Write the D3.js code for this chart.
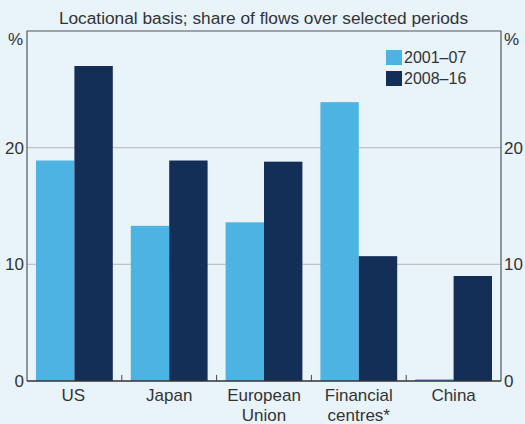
<!DOCTYPE html>
<html>
<head>
<meta charset="utf-8">
<script src="https://cdn.jsdelivr.net/npm/d3@7"></script>
<style>
  body { margin: 0; background: #e8f4fa; }
  svg { display: block; font-family: Arial, "Liberation Sans", sans-serif; }
</style>
</head>
<body>
<div id="chart"></div>
<script>
const categories = ['US', 'Japan', 'European Union', 'Financial centres*', 'China'];
const categoryLines = [['US'], ['Japan'], ['European', 'Union'], ['Financial', 'centres*'], ['China']];
const seriesNames = ['2001–07', '2008–16'];
const values2001 = [18.9, 13.3, 13.6, 23.9, 0.15];
const values2008 = [27.0, 18.9, 18.8, 10.7, 9.0];
const yTicks = [0, 10, 20];
const colors = ['#4db3e2', '#132f57'];

const W = 525, H = 424;
const margin = { top: 31, right: 24, bottom: 43, left: 27 };
const width = W - margin.left - margin.right;
const height = H - margin.top - margin.bottom;

const svg = d3.select('#chart').append('svg')
    .attr('width', W)
    .attr('height', H);

svg.append('rect')
    .attr('width', W).attr('height', H)
    .attr('fill', '#e8f4fa');

svg.append('text')
    .attr('x', 263.5)
    .attr('y', 24)
    .attr('text-anchor', 'middle')
    .attr('fill', '#333')
    .style('font-size', '17.3px')
    .text('Locational basis; share of flows over selected periods');

const g = svg.append('g')
    .attr('transform', `translate(${margin.left}, ${margin.top})`);

const x = d3.scaleBand()
    .domain(categories)
    .range([0, width])
    .paddingInner(0)
    .paddingOuter(0);

const x1 = d3.scaleBand()
    .domain(seriesNames)
    .range([9, x.bandwidth() - 9]);

const y = d3.scaleLinear()
    .domain([0, 30])
    .range([height, 0]);

// gridlines
g.selectAll('.grid')
    .data(yTicks.filter((d) => d > 0))
    .enter().append('line')
    .attr('x1', 0).attr('x2', width)
    .attr('y1', (d) => y(d)).attr('y2', (d) => y(d))
    .attr('stroke', '#bfc3c4')
    .attr('stroke-width', 1.2);

// bars
const data = categories.map((c, i) => ({ cat: c, vals: [values2001[i], values2008[i]] }));
const groups = g.selectAll('.grp')
    .data(data)
    .enter().append('g')
    .attr('transform', (d) => `translate(${x(d.cat)}, 0)`);

groups.selectAll('rect')
    .data((d) => d.vals.map((v, j) => ({ v, s: seriesNames[j], j })))
    .enter().append('rect')
    .attr('x', (d) => x1(d.s))
    .attr('width', x1.bandwidth())
    .attr('y', (d) => y(d.v))
    .attr('height', (d) => y(0) - y(d.v))
    .attr('fill', (d) => colors[d.j]);

// frame
g.append('path')
    .attr('d', `M0,${height}V0H${width}V${height}`)
    .attr('fill', 'none')
    .attr('stroke', '#555')
    .attr('stroke-width', 1.2);
g.append('line')
    .attr('x1', 0).attr('x2', width)
    .attr('y1', height).attr('y2', height)
    .attr('stroke', '#333')
    .attr('stroke-width', 1.3);

// category ticks
g.selectAll('.ctick')
    .data(categories.slice(1))
    .enter().append('line')
    .attr('x1', (d) => x(d)).attr('x2', (d) => x(d))
    .attr('y1', height).attr('y2', height - 6)
    .attr('stroke', '#444');

// y labels both sides
const yAxisLeft = d3.axisLeft(y).tickValues(yTicks).tickSize(0).tickPadding(3);
const yAxisRight = d3.axisRight(y).tickValues(yTicks).tickSize(0).tickPadding(3);
[yAxisLeft, yAxisRight].forEach((ax, i) => {
    const a = g.append('g')
        .attr('transform', `translate(${i ? width : 0}, 0)`)
        .call(ax);
    a.select('.domain').remove();
    a.selectAll('text')
        .attr('fill', '#333')
        .style('font-size', '17px')
        .style('font-family', 'Arial, "Liberation Sans", sans-serif');
});

svg.append('text').attr('x', 8).attr('y', 45)
    .attr('fill', '#333').style('font-size', '17px').text('%');
svg.append('text').attr('x', 504).attr('y', 45)
    .attr('fill', '#333').style('font-size', '17px').text('%');

// category labels
const cl = g.selectAll('.clab')
    .data(categories)
    .enter().append('text')
    .attr('text-anchor', 'middle')
    .attr('fill', '#333')
    .style('font-size', '17px')
    .attr('x', (d) => x(d) + x.bandwidth() / 2 + (d === 'US' ? -1 : 0))
    .attr('y', height + 20);
cl.each(function (d, i) {
    const self = d3.select(this);
    categoryLines[i].forEach((line, k) => {
        self.append('tspan')
            .attr('x', self.attr('x'))
            .attr('dy', k === 0 ? 0 : 20)
            .text(line);
    });
});

// legend
const legend = svg.append('g').attr('transform', 'translate(386, 50)');
seriesNames.forEach((s, i) => {
    legend.append('rect')
        .attr('x', 0).attr('y', i * 21)
        .attr('width', 16).attr('height', 15)
        .attr('fill', colors[i]);
    legend.append('text')
        .attr('x', 18).attr('y', i * 21 + 13)
        .attr('fill', '#333')
        .style('font-size', '16px')
        .text(s);
});
</script>
</body>
</html>
